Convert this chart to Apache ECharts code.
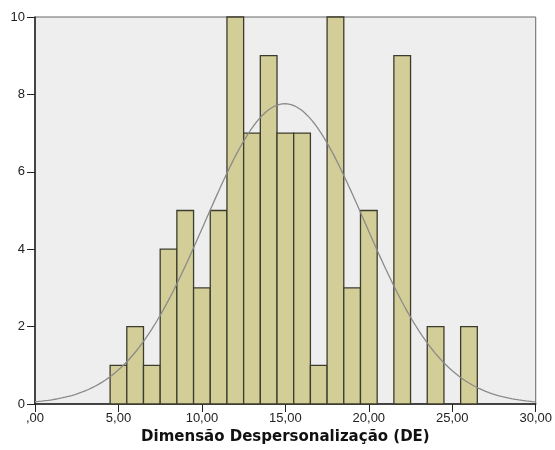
<!DOCTYPE html>
<html>
<head>
<meta charset="utf-8">
<script src="https://cdn.jsdelivr.net/npm/echarts@6/dist/echarts.min.js"></script>
<style>html,body{margin:0;padding:0;background:#fff}#c{width:555px;height:450px}</style>
</head>
<body>
<div id="c"></div>
<script>
// Histogram data
const binCenters = [5, 6, 7, 8, 9, 10, 11, 12, 13, 14, 15, 16, 17, 18, 19, 20, 22, 24, 26];
const counts     = [1, 2, 1, 4, 5, 3, 5, 10, 7, 9, 7, 7, 1, 10, 3, 5, 9, 2, 2];
const binWidth = 1;
const xTicks = [0, 5, 10, 15, 20, 25, 30];
const yTicks = [0, 2, 4, 6, 8, 10];
const xTitle = 'Dimensão Despersonalização (DE)';

// Normal curve fitted from the histogram data (mean, sd, N)
let N = 0, sx = 0;
binCenters.forEach((c, i) => { N += counts[i]; sx += c * counts[i]; });
const mean = sx / N;
let ss = 0;
binCenters.forEach((c, i) => { ss += counts[i] * (c - mean) * (c - mean); });
const sd = Math.sqrt(ss / (N - 1));
const curve = [];
for (let k = 0; k <= 300; k++) {
  const x = k / 10;
  const y = N * binWidth / (sd * Math.sqrt(2 * Math.PI)) * Math.exp(-0.5 * Math.pow((x - mean) / sd, 2));
  curve.push([x, y]);
}

const barData = binCenters.map((c, i) => [c - binWidth / 2, c + binWidth / 2, counts[i]]);

const chart = echarts.init(document.getElementById('c'), null, {renderer: 'canvas'});
const fmt = v => {
  const s = v.toFixed(2).replace('.', ',');
  return s.startsWith('0,') ? s.slice(1) : s;
};
chart.setOption({
  animation: false,
  textStyle: {fontFamily: 'Liberation Sans, Arial, sans-serif'},
  grid: {left: 35, right: 18, top: 17, bottom: 46, show: true, backgroundColor: '#EEEEEE', borderColor: '#666', borderWidth: 1},
  xAxis: {
    type: 'value', min: 0, max: 30, interval: 5,
    axisLine: {show: true, onZero: false, lineStyle: {color: '#222', width: 1.5}},
    axisTick: {show: true, length: 8, lineStyle: {color: '#222'}},
    axisLabel: {color: '#222', fontSize: 13, margin: 8, formatter: v => fmt(v)},
    splitLine: {show: false},
    name: xTitle, nameLocation: 'middle', nameGap: 26,
    nameTextStyle: {color: '#111', fontSize: 15, fontWeight: 'bold', fontFamily: 'DejaVu Sans, sans-serif'}
  },
  yAxis: {
    type: 'value', min: 0, max: 10, interval: 2,
    axisLine: {show: true, lineStyle: {color: '#222', width: 1.5}},
    axisTick: {show: true, length: 8, lineStyle: {color: '#222'}},
    axisLabel: {color: '#222', fontSize: 13, margin: 10},
    splitLine: {show: false}
  },
  series: [
    {
      type: 'custom',
      data: barData,
      renderItem: function (params, api) {
        const p0 = api.coord([api.value(0), 0]);
        const p1 = api.coord([api.value(1), api.value(2)]);
        return {
          type: 'rect',
          shape: {x: p0[0], y: p1[1], width: p1[0] - p0[0], height: p0[1] - p1[1]},
          style: {fill: '#D3CE97', stroke: '#3C3C2E', lineWidth: 1.3}
        };
      },
      encode: {x: [0, 1], y: 2},
      z: 2
    },
    {
      type: 'line', data: curve, showSymbol: false, smooth: false,
      lineStyle: {color: '#8A8A8A', width: 1.3}, z: 3
    }
  ]
});
</script>
</body>
</html>
